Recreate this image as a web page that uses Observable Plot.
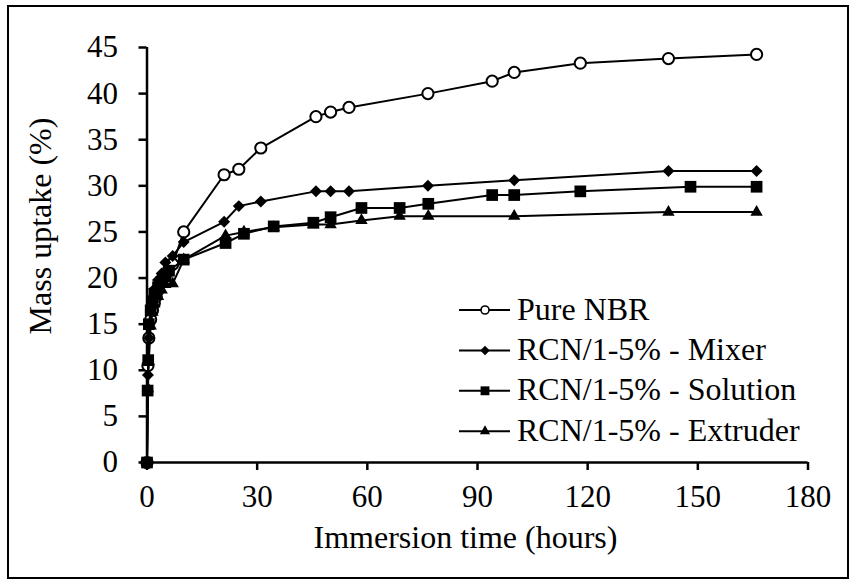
<!DOCTYPE html>
<html>
<head>
<meta charset="utf-8">
<script src="https://cdn.jsdelivr.net/npm/d3@7"></script>
<script src="https://cdn.jsdelivr.net/npm/@observablehq/plot@0.6"></script>
<style>
  html, body { margin: 0; padding: 0; background: #fff; }
  #wrap { position: relative; width: 850px; height: 579px; overflow: hidden; }
  #frame { position: absolute; left: 7px; top: 5px; width: 838px; height: 570px; border: 2px solid #000; pointer-events: none; }
  #legend { position: absolute; left: 0; top: 0; }
</style>
</head>
<body>
<div id="wrap"><div id="frame"></div></div>
<script>
// ---- data ----
const seriesNames = ["Pure NBR", "RCN/1-5% - Mixer", "RCN/1-5% - Solution", "RCN/1-5% - Extruder"];

const nbrTime = [0, 0.25, 0.5, 1, 1.5, 2, 2.5, 3, 4, 5, 7, 10, 21, 25, 31, 46, 50, 55, 76.5, 94, 100, 118, 142, 166];
const nbrUptake = [0, 10.5, 13.5, 15.5, 16.5, 17.3, 18, 18.7, 19.5, 20.3, 21.5, 25.0, 31.2, 31.8, 34.1, 37.5, 38.0, 38.5, 40.0, 41.35, 42.3, 43.3, 43.8, 44.25];

const mixerTime = [0, 0.25, 0.5, 1, 1.5, 2, 3, 4, 5, 7, 10, 21, 25, 31, 46, 50, 55, 76.5, 100, 142, 166];
const mixerUptake = [0, 9.5, 13.5, 16.5, 17.8, 18.8, 19.8, 20.5, 21.7, 22.4, 23.9, 26.1, 27.8, 28.3, 29.4, 29.4, 29.4, 30.0, 30.6, 31.6, 31.6];

const solutionTime = [0, 0.17, 0.33, 0.5, 1, 1.5, 2, 3, 4, 5, 6, 10, 21.4, 26.4, 34.5, 45.3, 50, 58.4, 68.8, 76.6, 94, 100, 118, 148, 166];
const solutionUptake = [0, 7.8, 11.1, 15.0, 16.5, 17.5, 18.3, 19.0, 19.6, 20.2, 20.8, 22.0, 23.8, 24.8, 25.6, 26.0, 26.6, 27.6, 27.6, 28.05, 29.0, 29.0, 29.4, 29.9, 29.9];

const extruderTime = [0, 0.25, 0.5, 1, 1.5, 2, 3, 4, 5, 7, 10, 21.4, 26.4, 34.5, 45.3, 50, 58.4, 68.8, 76.6, 100, 142, 166];
const extruderUptake = [0, 8, 11, 14.8, 16.3, 17.2, 18.0, 18.7, 19.3, 19.4, 22.0, 24.6, 25.0, 25.5, 25.8, 25.8, 26.25, 26.7, 26.7, 26.7, 27.15, 27.15];

const xTicks = [0, 30, 60, 90, 120, 150, 180];
const yTicks = [0, 5, 10, 15, 20, 25, 30, 35, 40, 45];
const xLabel = "Immersion time (hours)";
const yLabel = "Mass uptake (%)";

// ---- build tables ----
const toRows = (t, v) => t.map((d, i) => ({time: d, uptake: v[i]}));
const series = [
  {name: seriesNames[0], rows: toRows(nbrTime, nbrUptake), symbol: "circle", fill: "white", stroke: "black", r: 5.6, lr: 4},
  {name: seriesNames[1], rows: toRows(mixerTime, mixerUptake), symbol: "diamond2", fill: "black", stroke: "none", r: 5.4, lr: 4.3},
  {name: seriesNames[2], rows: toRows(solutionTime, solutionUptake), symbol: "square", fill: "black", stroke: "none", r: 6.6, lr: 5},
  {name: seriesNames[3], rows: toRows(extruderTime, extruderUptake), symbol: "triangle", fill: "black", stroke: "none", r: 4.6, lr: 3.8}
];

const font = "'Liberation Serif', 'Times New Roman', serif";

const marks = [
  Plot.ruleY([0], {stroke: "black", strokeWidth: 2.5}),
  Plot.ruleX([0], {stroke: "black", strokeWidth: 2.5}),
  Plot.axisX({ticks: xTicks, tickSize: 8, tickPadding: 14, strokeWidth: 2.5, fontSize: 31, label: null, tickFormat: d => String(d)}),
  Plot.axisY({ticks: yTicks, tickSize: 8, tickPadding: 21, strokeWidth: 2.5, fontSize: 31, label: null, tickFormat: d => String(d)}),
  Plot.text([xLabel], {text: d => d, frameAnchor: "bottom", textAnchor: "middle", lineAnchor: "middle", dx: -12, dy: 75, fontSize: 32, fill: "black"}),
  Plot.text([yLabel], {text: d => d, frameAnchor: "left", textAnchor: "middle", lineAnchor: "middle", rotate: -90, dx: -106, dy: -29, fontSize: 32, fill: "black"})
];
for (const s of series) {
  marks.push(Plot.line(s.rows, {x: "time", y: "uptake", stroke: "black", strokeWidth: 2}));
  marks.push(Plot.dot(s.rows, {x: "time", y: "uptake", symbol: s.symbol, r: s.r, fill: s.fill, stroke: s.stroke, strokeWidth: s.stroke === "none" ? 0 : 2}));
}

const chart = Plot.plot({
  width: 850,
  height: 579,
  marginLeft: 146.5,
  marginRight: 42.5,
  marginTop: 47,
  marginBottom: 117,
  x: {domain: [0, 180]},
  y: {domain: [0, 45]},
  style: {fontFamily: font, fontSize: "31px", color: "black", background: "transparent", overflow: "visible"},
  marks
});
const wrap = document.getElementById("wrap");
wrap.insertBefore(chart, wrap.firstChild);

// ---- legend overlay ----
const symMap = {circle: d3.symbolCircle, diamond2: d3.symbolDiamond2, square: d3.symbolSquare, triangle: d3.symbolTriangle};
const leg = d3.select(wrap).append("svg").attr("id", "legend").attr("width", 850).attr("height", 579);
series.forEach((s, i) => {
  const cy = 310 + i * 40.4;
  const g = leg.append("g").attr("transform", `translate(0,${cy})`);
  g.append("line").attr("x1", 459).attr("x2", 510).attr("y1", 0).attr("y2", 0).attr("stroke", "black").attr("stroke-width", 2);
  g.append("path").attr("transform", "translate(485,0)")
    .attr("d", d3.symbol(symMap[s.symbol], Math.PI * s.lr * s.lr)())
    .attr("fill", s.fill).attr("stroke", s.stroke).attr("stroke-width", s.stroke === "none" ? 0 : 1.6);
  g.append("text").attr("x", 517).attr("y", 9.5).attr("font-family", font).attr("font-size", 32).attr("fill", "black").text(s.name);
});
</script>
</body>
</html>
